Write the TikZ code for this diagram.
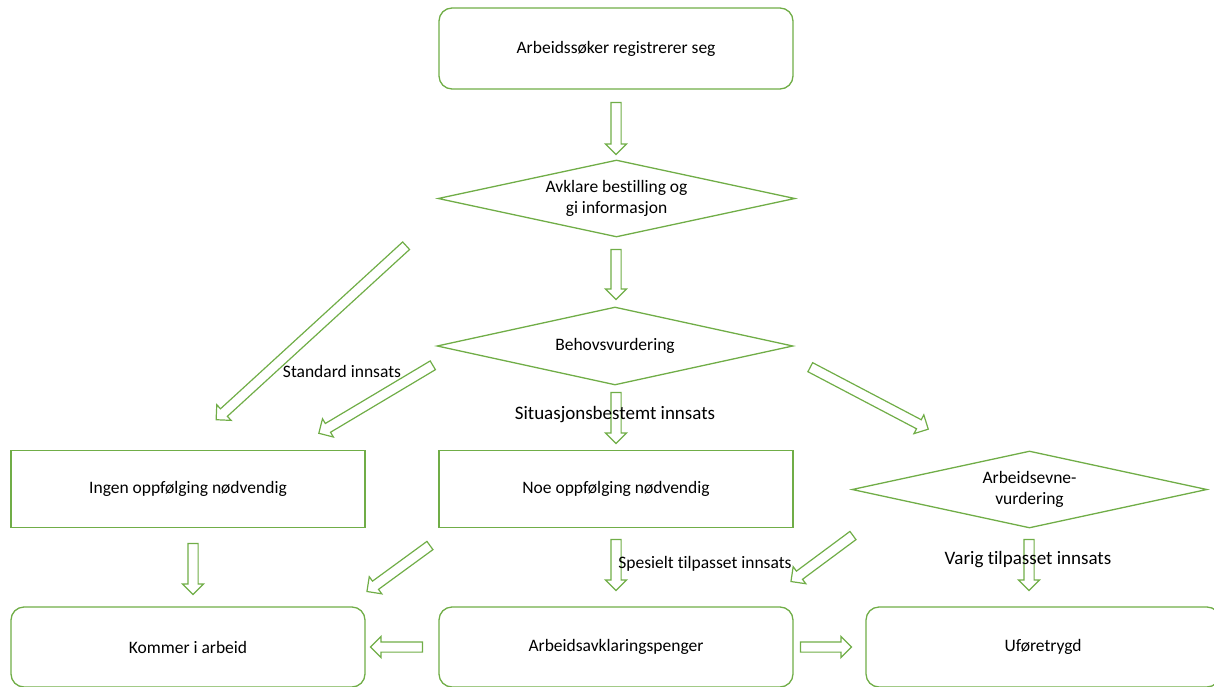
\documentclass[tikz,border=0pt]{standalone}
\usepackage{fontspec}
\setmainfont{Carlito}[Ligatures={NoCommon}]
\usetikzlibrary{shapes.geometric,shapes.arrows,calc}
\definecolor{lgreen}{HTML}{70AD47}
\tikzset{
  txt/.style={font=\fontsize{17.5}{21}\selectfont},
  bigtxt/.style={font=\fontsize{19}{23}\selectfont},
  box/.style={draw=lgreen, line width=1.3pt, minimum width=354pt, minimum height=77pt,
    inner sep=0pt, align=center, txt},
  rbox/.style={box, rounded corners=13pt},
  dia/.style={draw=lgreen, line width=1.3pt, shape=diamond, minimum width=356pt,
    minimum height=77pt, inner sep=0pt, aspect=4.6, align=center, txt},
  blockarrow/.style={draw=lgreen, line width=1.2pt, shape=single arrow, minimum width=20pt,
    single arrow head extend=5.5pt, single arrow head indent=0pt,
    inner xsep=0pt, inner ysep=4.5pt},
  lbl/.style={inner sep=0pt}
}
\newcommand\barrow[3]{%
  \path let \p1=($(#3)-(#2)$), \n1={atan2(\y1,\x1)}, \n2={veclen(\x1,\y1)} in
    node[blockarrow, minimum height=\n2, rotate=\n1] (#1) at ($(#2)!0.5!(#3)$) {};}
\begin{document}
\begin{tikzpicture}[x=1pt,y=-1pt]
\useasboundingbox (0,0) rectangle (1214,687);
% nodes
\node[rbox, minimum height=81pt] (reg) at (616,48.5) {\raisebox{-2pt}{Arbeidssøker registrerer seg}};
\node[dia, minimum width=357pt] (avk) at (616.5,198.5) {Avklare bestilling og\\gi informasjon};
\node[dia, minimum height=78pt] (beh) at (615,346) {Behovsvurdering};
\node[box] (ingen) at (188,489) {Ingen oppfølging nødvendig};
\node[box] (noe) at (616,489) {Noe oppfølging nødvendig};
\node[dia, minimum width=355pt] (evne) at (1029.5,489.5) {Arbeidsevne-\\vurdering};
\node[rbox, minimum height=80pt] (kommer) at (188,647) {Kommer i arbeid};
\node[rbox, minimum height=80pt] (aap) at (616,647) {Arbeidsavklaringspenger};
\node[rbox, minimum height=80pt] (ufo) at (1043,647) {Uføretrygd};
% arrow end points
\coordinate (t1) at (616,100);  \coordinate (h1) at (616,152);
\coordinate (t2) at (616,247);  \coordinate (h2) at (616,297);
\coordinate (t3) at (616,390);  \coordinate (h3) at (616,441);
\coordinate (t4) at (408,244);  \coordinate (h4) at (218,418);
\coordinate (t5) at (435,364);  \coordinate (h5) at (321,432);
\coordinate (t6) at (808,366);  \coordinate (h6) at (926,428);
\coordinate (t7) at (193,541);  \coordinate (h7) at (193,592);
\coordinate (t8) at (616,537);  \coordinate (h8) at (616,588);
\coordinate (t9) at (1029,537); \coordinate (h9) at (1029,588);
\coordinate (t10) at (432,544); \coordinate (h10) at (369,590);
\coordinate (t11) at (855,534); \coordinate (h11) at (793,580);
\coordinate (t12) at (425,647); \coordinate (h12) at (373,647);
\coordinate (t13) at (798,647); \coordinate (h13) at (849,647);
% block arrows
\barrow{a1}{t1}{h1}
\barrow{a2}{t2}{h2}
\barrow{a3}{t3}{h3}
\barrow{a4}{t4}{h4}
\barrow{a5}{t5}{h5}
\barrow{a6}{t6}{h6}
\barrow{a7}{t7}{h7}
\barrow{a8}{t8}{h8}
\barrow{a9}{t9}{h9}
\barrow{a10}{t10}{h10}
\barrow{a11}{t11}{h11}
\barrow{a12}{t12}{h12}
\barrow{a13}{t13}{h13}
% labels
\node[lbl, txt] (l1) at (342,371) {Standard innsats};
\node[lbl, bigtxt] (l2) at (615,415) {Situasjonsbestemt innsats};
\node[lbl, txt] (l3) at (705,564) {Spesielt tilpasset innsats};
\node[lbl, bigtxt] (l4) at (1028,560) {Varig tilpasset innsats};
\end{tikzpicture}
\end{document}
